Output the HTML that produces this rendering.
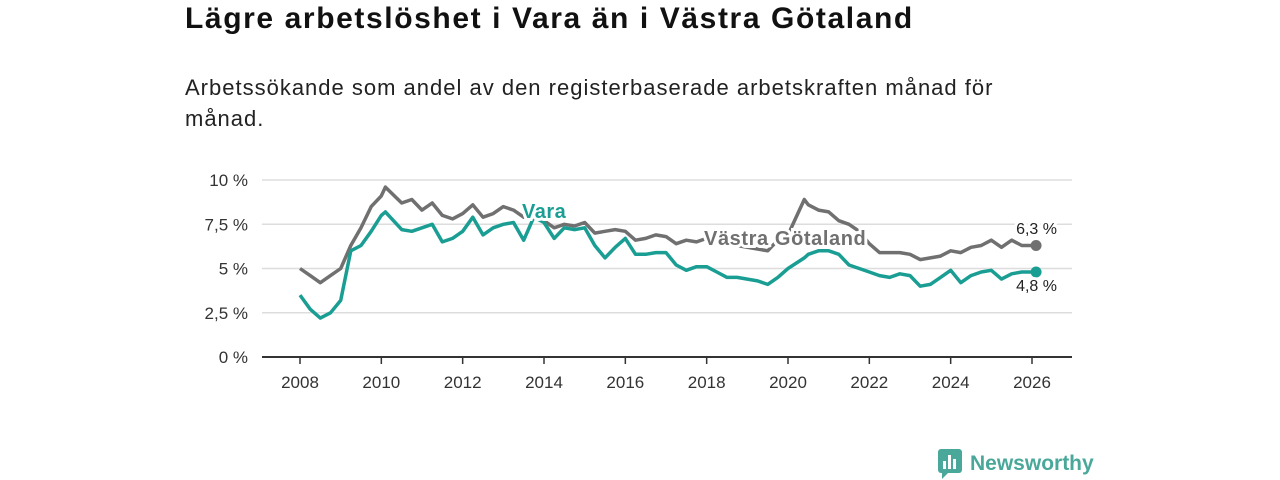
<!DOCTYPE html>
<html><head><meta charset="utf-8"><style>
body{margin:0;width:1280px;height:480px;background:#fff;font-family:"Liberation Sans",sans-serif;overflow:hidden;position:relative}
h1{position:absolute;left:185px;top:2px;margin:0;font-size:30px;letter-spacing:1.6px;font-weight:bold;color:#111}
p.sub{position:absolute;left:185px;top:72px;margin:0;font-size:22px;letter-spacing:1px;line-height:31px;color:#222;width:850px}
svg{position:absolute;left:0;top:0}
</style></head><body>
<h1>Lägre arbetslöshet i Vara än i Västra Götaland</h1>
<p class="sub">Arbetssökande som andel av den registerbaserade arbetskraften månad för månad.</p>
<svg id="chart" width="1280" height="480"></svg>
<script>
const years=[2008,2008.25,2008.5,2008.75,2009,2009.25,2009.5,2009.75,2010,2010.1,2010.5,2010.75,2011,2011.25,2011.5,2011.75,2012,2012.25,2012.5,2012.75,2013,2013.25,2013.5,2013.75,2014,2014.25,2014.5,2014.75,2015,2015.25,2015.5,2015.75,2016,2016.25,2016.5,2016.75,2017,2017.25,2017.5,2017.75,2018,2018.25,2018.5,2018.75,2019,2019.25,2019.5,2019.75,2020,2020.4,2020.5,2020.75,2021,2021.25,2021.5,2021.75,2022,2022.25,2022.5,2022.75,2023,2023.25,2023.5,2023.75,2024,2024.25,2024.5,2024.75,2025,2025.25,2025.5,2025.75,2026.1];
const vgValues=[5.0,4.6,4.2,4.6,5.0,6.3,7.3,8.5,9.1,9.6,8.7,8.9,8.3,8.7,8.0,7.8,8.1,8.6,7.9,8.1,8.5,8.3,7.9,8.3,7.7,7.3,7.5,7.4,7.6,7.0,7.1,7.2,7.1,6.6,6.7,6.9,6.8,6.4,6.6,6.5,6.7,6.5,6.4,6.3,6.2,6.1,6.0,6.6,6.9,8.9,8.6,8.3,8.2,7.7,7.5,7.1,6.4,5.9,5.9,5.9,5.8,5.5,5.6,5.7,6.0,5.9,6.2,6.3,6.6,6.2,6.6,6.3,6.3];
const varaValues=[3.5,2.7,2.2,2.5,3.2,6.0,6.3,7.1,8.0,8.2,7.2,7.1,7.3,7.5,6.5,6.7,7.1,7.9,6.9,7.3,7.5,7.6,6.6,7.9,7.6,6.7,7.3,7.2,7.3,6.3,5.6,6.2,6.7,5.8,5.8,5.9,5.9,5.2,4.9,5.1,5.1,4.8,4.5,4.5,4.4,4.3,4.1,4.5,5.0,5.6,5.8,6.0,6.0,5.8,5.2,5.0,4.8,4.6,4.5,4.7,4.6,4.0,4.1,4.5,4.9,4.2,4.6,4.8,4.9,4.4,4.7,4.8,4.8];
const yTicks=[0,2.5,5,7.5,10];
const yTickLabels=["0 %","2,5 %","5 %","7,5 %","10 %"];
const xTicks=[2008,2010,2012,2014,2016,2018,2020,2022,2024,2026];

const NS="http://www.w3.org/2000/svg";
const svg=document.getElementById('chart');
const X=v=>300+(v-2008)*(732/18);
const Y=v=>357-v*17.7;
function mk(tag,attrs,parent){const e=document.createElementNS(NS,tag);for(const k in attrs)e.setAttribute(k,attrs[k]);(parent||svg).appendChild(e);return e;}
yTicks.forEach((t,i)=>{
  const g=mk('line',{x1:262,x2:1072,y1:Y(t),y2:Y(t),stroke:i==0?'#333':'#ddd','stroke-width':i==0?2:1.5});
  
  
  const l=mk('text',{x:248,y:Y(t)+6,'text-anchor':'end','font-size':17,fill:'#333'});
  l.textContent=yTickLabels[i];
  
  
});
xTicks.forEach(t=>{
  const tk=mk('line',{x1:X(t),x2:X(t),y1:357,y2:364,stroke:'#333','stroke-width':1.5});
  
  
  const l=mk('text',{x:X(t),y:388,'text-anchor':'middle','font-size':17,fill:'#333'});
  l.textContent=t;
  
  
});
function line(vals,color,name){
  const d=vals.map((v,i)=>(i?'L':'M')+X(years[i]).toFixed(1)+','+Y(v).toFixed(1)).join('');
  const p=mk('path',{d:d,fill:'none',stroke:color,'stroke-width':3.5,'stroke-linejoin':'round'});
  
  
  const last=vals.length-1;
  const c=mk('circle',{cx:X(years[last]),cy:Y(vals[last]),r:5.5,fill:color});
  
  
}
line(vgValues,'#707070','vastra-gotaland-line');
line(varaValues,'#1a9e94','vara-line');
function label(txt,x,y,color,size,weight,name,anchor,ls){
  const t=mk('text',{x:x,y:y,'font-size':size,'font-weight':weight,fill:color,stroke:'#fff','stroke-width':6,'paint-order':'stroke','text-anchor':anchor||'start','letter-spacing':ls||0});
  t.textContent=txt;
  
  
}
label('Vara',522,218,'#1a9e94',20,'bold','vara-series-label',null,0.5);
label('Västra Götaland',704,245,'#707070',20,'bold','vastra-gotaland-series-label',null,0.6);
label('6,3 %',1057,234,'#222',16,'normal','vastra-gotaland-end-value','end');
label('4,8 %',1057,291,'#222',16,'normal','vara-end-value','end');
</script>
<div style="position:absolute;left:938px;top:449px;display:flex;align-items:center">
<svg width="26" height="30" style="position:static"><rect x="0" y="0" width="24" height="24" rx="3" fill="#4aa89a"/><path d="M4 24 L4 30 L10 24Z" fill="#4aa89a"/><rect x="5" y="12" width="3" height="8" fill="#fff"/><rect x="10" y="6" width="3" height="14" fill="#fff"/><rect x="15" y="10" width="3" height="10" fill="#fff"/></svg>
<span style="margin-left:6px;font-size:21px;font-weight:bold;color:#4aa89a">Newsworthy</span></div>
</body></html>
